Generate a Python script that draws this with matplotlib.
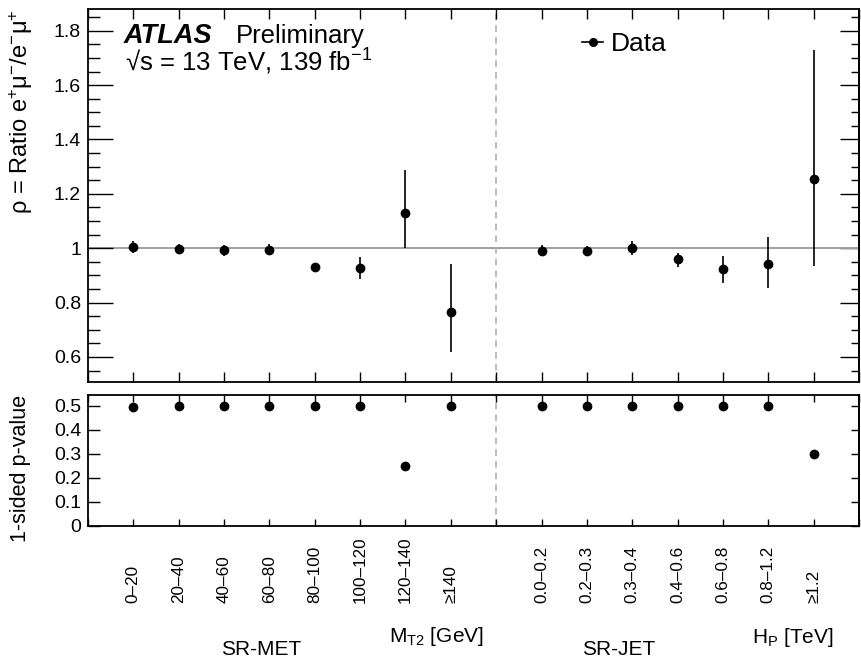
import numpy as np
import matplotlib
matplotlib.use("Agg")
import matplotlib.pyplot as plt
import matplotlib.transforms as mtransforms
from matplotlib.lines import Line2D
from matplotlib.ticker import MultipleLocator, FixedLocator, FuncFormatter

plt.rcParams['font.family'] = 'Liberation Sans'
plt.rcParams['mathtext.fontset'] = 'custom'
plt.rcParams['mathtext.rm'] = 'Liberation Sans'
plt.rcParams['mathtext.it'] = 'Liberation Sans:italic'
plt.rcParams['mathtext.bf'] = 'Liberation Sans:bold'
plt.rcParams['mathtext.default'] = 'regular'

# SR-MET bins (M_T2 in GeV)
met_labels = ["0–20", "20–40", "40–60", "60–80", "80–100", "100–120", "120–140", "≥140"]
met_rho = [1.003, 0.997, 0.993, 0.995, 0.930, 0.927, 1.131, 0.767]
met_rho_lo = [0.022, 0.020, 0.020, 0.020, 0.012, 0.040, 0.131, 0.147]
met_rho_hi = [0.022, 0.020, 0.020, 0.020, 0.012, 0.040, 0.157, 0.174]
met_pval = [0.493, 0.50, 0.50, 0.50, 0.50, 0.50, 0.25, 0.50]

# SR-JET bins (H_P in TeV)
jet_labels = ["0.0–0.2", "0.2–0.3", "0.3–0.4", "0.4–0.6", "0.6–0.8", "0.8–1.2", "≥1.2"]
jet_rho = [0.991, 0.990, 1.000, 0.960, 0.923, 0.942, 1.255]
jet_rho_lo = [0.020, 0.020, 0.025, 0.030, 0.052, 0.089, 0.322]
jet_rho_hi = [0.020, 0.020, 0.025, 0.022, 0.050, 0.099, 0.475]
jet_pval = [0.50, 0.50, 0.50, 0.50, 0.50, 0.50, 0.30]

met_x = np.arange(1, len(met_labels) + 1)
split_x = len(met_labels) + 1
jet_x = np.arange(split_x + 1, split_x + 1 + len(jet_labels))
x_max = jet_x[-1] + 1

W, H = 862, 660
fig = plt.figure(figsize=(W / 100, H / 100), dpi=100)


def box(l, t, r, b):
    return [l / W, 1 - b / H, (r - l) / W, (b - t) / H]


def fx(px):
    return px / W


def fy(py):
    return 1 - py / H


ax_top = fig.add_axes(box(88, 9, 859, 382))
ax_bot = fig.add_axes(box(88, 395, 859, 526))

fmt = FuncFormatter(lambda v, pos: f"{v:g}")

# ratio panel
ax_top.axhline(1.0, color='#a0a0a0', lw=1.4, zorder=1)
for xs, ys, lo, hi in ((met_x, met_rho, met_rho_lo, met_rho_hi),
                       (jet_x, jet_rho, jet_rho_lo, jet_rho_hi)):
    ax_top.errorbar(xs, ys, yerr=[lo, hi], fmt='o', color='k', ms=6,
                    elinewidth=1.2, capsize=0, zorder=3)
ax_top.set_ylim(0.508, 1.88)
ax_top.yaxis.set_major_locator(MultipleLocator(0.2))
ax_top.yaxis.set_minor_locator(MultipleLocator(0.05))
ax_top.yaxis.set_major_formatter(fmt)
ax_top.tick_params(axis='y', which='major', direction='in', length=18, width=1.0,
                   left=True, right=False, labelsize=14, pad=5)
ax_top.tick_params(axis='y', which='minor', direction='in', length=8.5, width=1.0,
                   left=True, right=False)
ax_top.tick_params(axis='x', which='both', direction='in', length=7, width=1.0,
                   top=True, bottom=True, labelbottom=False)
sec = ax_top.secondary_yaxis('right')
sec.yaxis.set_major_locator(MultipleLocator(0.2))
sec.yaxis.set_minor_locator(MultipleLocator(0.05))
sec.tick_params(which='major', direction='in', length=14, width=1.0, labelright=False)
sec.tick_params(which='minor', direction='in', length=5.5, width=1.0)
sec.spines['right'].set_linewidth(1.3)

# p-value panel
ax_bot.plot(met_x, met_pval, 'o', color='k', ms=6, zorder=3)
ax_bot.plot(jet_x, jet_pval, 'o', color='k', ms=6, zorder=3)
ax_bot.set_ylim(0, 0.545)
ax_bot.yaxis.set_major_locator(MultipleLocator(0.1))
ax_bot.yaxis.set_major_formatter(fmt)
ax_bot.tick_params(axis='y', direction='in', length=8.5, width=1.0,
                   left=True, right=False, labelsize=14, pad=5)
ax_bot.tick_params(axis='x', direction='in', length=5, width=1.0,
                   top=True, bottom=True, labelbottom=False)
sec2 = ax_bot.secondary_yaxis('right')
sec2.yaxis.set_major_locator(MultipleLocator(0.1))
sec2.tick_params(direction='in', length=5.5, width=1.0, labelright=False)
sec2.spines['right'].set_linewidth(1.3)

for ax in (ax_top, ax_bot):
    ax.set_xlim(0, x_max)
    ax.xaxis.set_major_locator(FixedLocator(np.arange(0, x_max + 1)))
    ax.axvline(split_x, color='#b0b0b0', lw=1.2, ls=(0, (4, 3)), zorder=1)
    for s in ax.spines.values():
        s.set_linewidth(1.3)

# bin labels under the lower panel
trans = mtransforms.blended_transform_factory(ax_bot.transData, fig.transFigure)
for x, lab in zip(np.r_[met_x, jet_x], met_labels + jet_labels):
    ax_bot.text(x, fy(603), lab, transform=trans, rotation=90,
                ha='center', va='bottom', fontsize=12.3)

ax_bot.text(3.81, fy(655), "SR-MET", transform=trans, ha='center', va='baseline', fontsize=15)
ax_bot.text(7.68, fy(642), r"M$_{T2}$ [GeV]", transform=trans, ha='center', va='baseline', fontsize=15)
ax_bot.text(11.70, fy(655), "SR-JET", transform=trans, ha='center', va='baseline', fontsize=15)
ax_bot.text(15.55, fy(643), r"H$_{P}$ [TeV]", transform=trans, ha='center', va='baseline', fontsize=15)

# axis titles
fig.text(fx(21), fy(9), r"ρ = Ratio e$^{+}$μ$^{-}$/e$^{-}$μ$^{+}$", rotation=90,
         ha='center', va='top', fontsize=17)
fig.text(fx(21), fy(395), "1-sided p-value", rotation=90,
         ha='center', va='top', fontsize=15.5)

# ATLAS label
fig.text(fx(124), fy(43), "ATLAS", fontsize=19.5, fontweight='bold', fontstyle='italic',
         va='baseline')
fig.text(fx(236), fy(43), "Preliminary", fontsize=18.5, va='baseline')
fig.text(fx(125), fy(71), r"√s = 13 TeV, 139 fb$^{-1}$", fontsize=18.5, va='baseline')

handle = Line2D([], [], color='k', marker='o', ms=5.5, lw=1.2)
ax_top.legend([handle], ["Data"], loc='upper left', bbox_to_anchor=(fx(582), fy(32)),
              bbox_transform=fig.transFigure, frameon=False, fontsize=19,
              handlelength=0.8, handletextpad=0.3, borderpad=0, borderaxespad=0)

fig.savefig("out.png", dpi=100)
